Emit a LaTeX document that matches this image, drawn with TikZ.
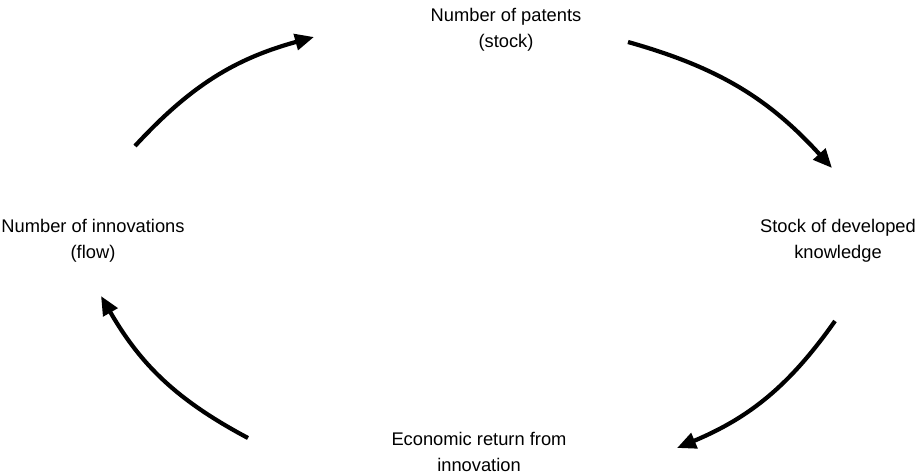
\documentclass[tikz,border=0pt]{standalone}
\usepackage{fontspec}
\setmainfont{Liberation Sans}
\usetikzlibrary{arrows.meta}
\begin{document}
\begin{tikzpicture}[x=1pt,y=-1pt,
  label/.style={align=center,font=\fontsize{18.3}{25.5}\selectfont,inner sep=0pt},
  flow/.style={line width=4.2pt,-{Triangle[length=19pt,width=16pt]}}]
\useasboundingbox (0,0) rectangle (921,474);
% stages of the cycle
\node[label] (patents) at (506,30) {Number of patents\\(stock)};
\node[label] (knowledge) at (838,241) {Stock of developed\\knowledge};
\node[label] (return) at (479,452) {Economic return from\\innovation};
\node[label] (innov) at (93,241) {Number of innovations\\(flow)};
% arrow end points
\coordinate (a1) at (135,146);
\coordinate (b1) at (314,37);
\coordinate (a2) at (628,42);
\coordinate (b2) at (832,168);
\coordinate (a3) at (835,321);
\coordinate (b3) at (677,448);
\coordinate (a4) at (248,438);
\coordinate (b4) at (101,296);
\draw[flow] (a1) to[bend left=16] (b1);
\draw[flow] (a2) to[bend left=16] (b2);
\draw[flow] (a3) to[bend left=16] (b3);
\draw[flow] (a4) to[bend left=16] (b4);
\end{tikzpicture}
\end{document}
